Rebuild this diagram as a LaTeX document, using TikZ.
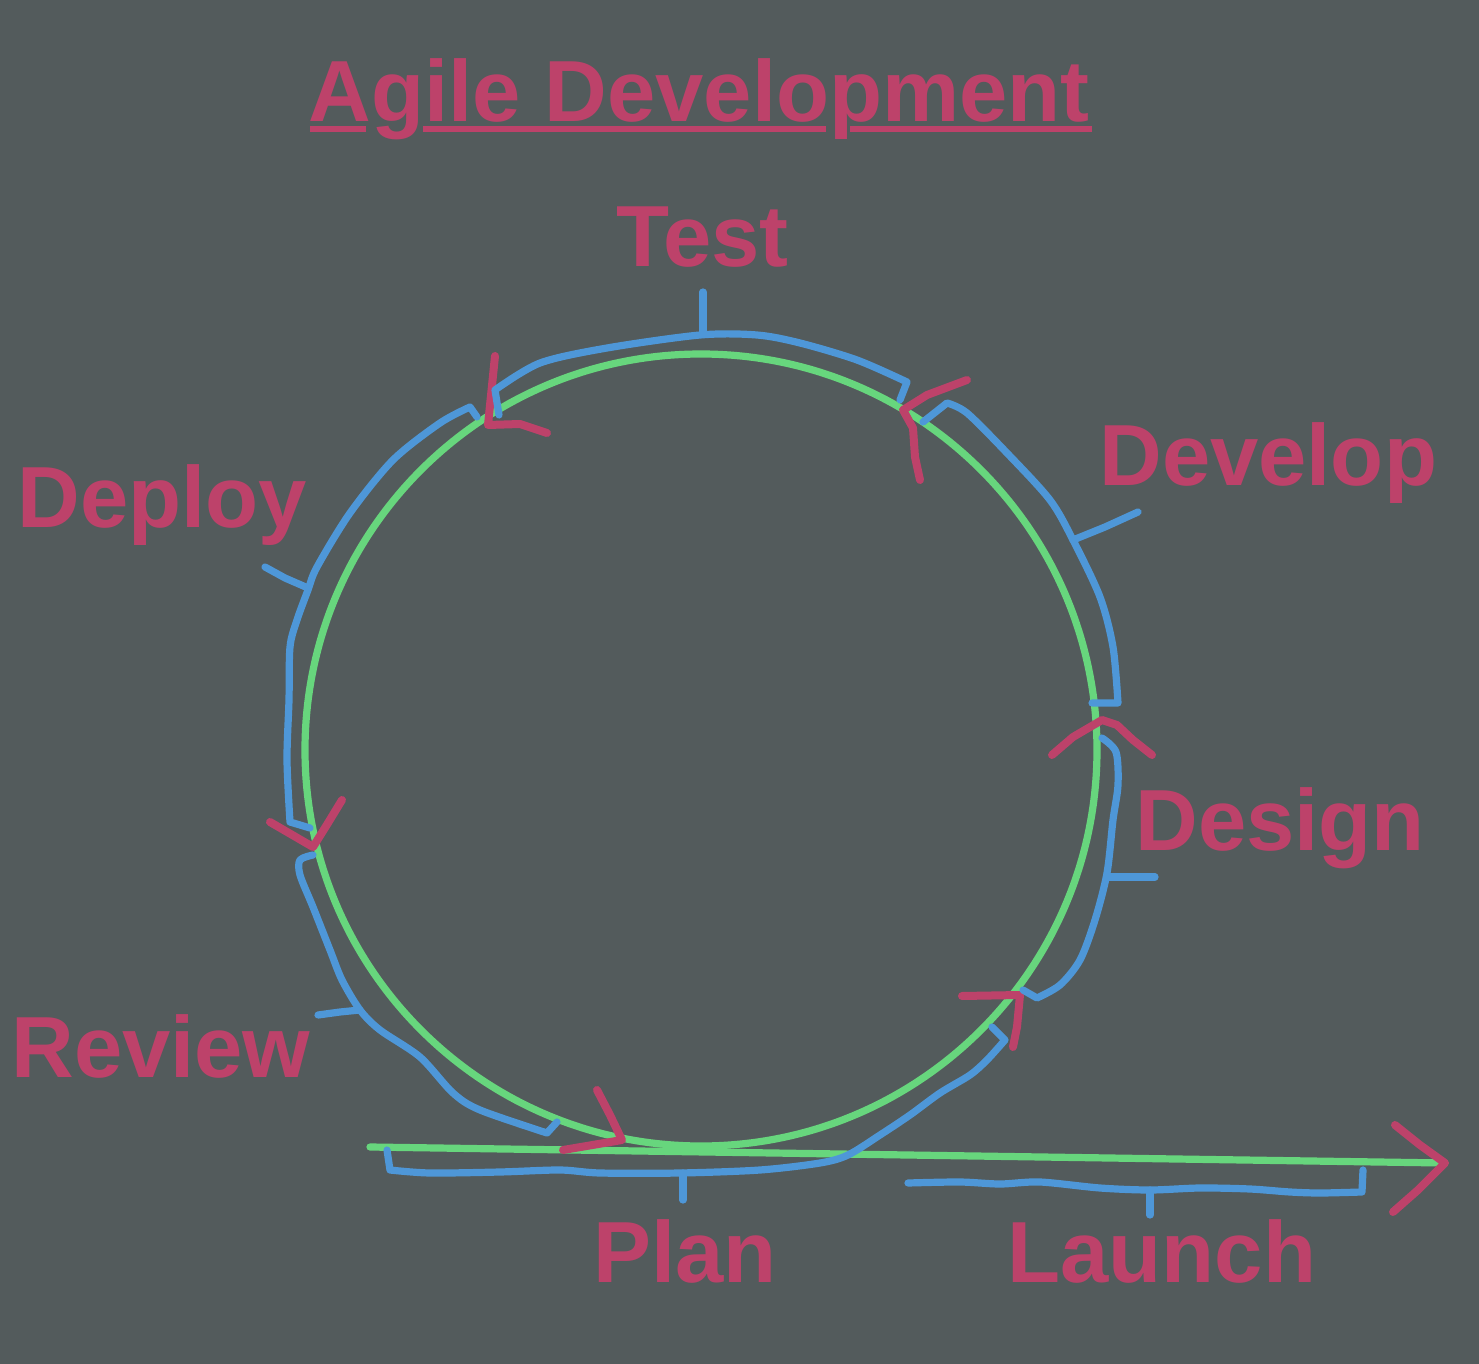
\documentclass[tikz,border=0pt]{standalone}
\usepackage{fontspec}
\setmainfont{Liberation Sans}
\definecolor{slate}{RGB}{83,91,92}
\definecolor{rose}{RGB}{189,66,106}
\definecolor{leaf}{RGB}{103,214,125}
\definecolor{sky}{RGB}{78,151,216}

\begin{document}
\begin{tikzpicture}[x=0.5pt, y=-0.5pt]
    % Styles
    \tikzset{
        ring/.style={draw=leaf, line width=3.6pt, line cap=round},
        brace/.style={draw=sky, line width=3.6pt, line cap=round, line join=round},
        tip/.style={draw=rose, line width=4pt, line cap=round, line join=round},
        stage/.style={text=rose, font=\bfseries\fontsize{43.4}{52}\selectfont, inner sep=0pt, anchor=base west}
    }

    % Background
    \fill[slate] (0,0) rectangle (1479,1364);

    % Title
    \node[stage] (title) at (308,122) {Agile Development};
    \draw[draw=rose, line width=2.8pt] (310,129) -- (366,129) (423,129) -- (826,129) (850,129) -- (1092,129);

    % Stages
    \node[stage] (test) at (616,267) {Test};
    \node[stage] (develop) at (1099,485) {Develop};
    \node[stage] (deploy) at (17,527) {Deploy};
    \node[stage] (design) at (1135,850) {Design};
    \node[stage] (review) at (11,1077) {Review};
    \node[stage] (plan) at (593,1282) {Plan};
    \node[stage] (launch) at (1007,1282) {Launch};

    % Loop and exit line
    \coordinate (ctr) at (701,750);
    \coordinate (exitstart) at (370,1147);
    \coordinate (exitend) at (1445,1163);
    \draw[ring] (ctr) circle[radius=396];
    \draw[ring] (exitstart) -- (exitend);

    % Arrow tips
    \draw[tip] (495,356) -- (488,425) -- (520,424) -- (547,433);
    \draw[tip] (967,380) -- (927,395) -- (903,410) -- (913,428) -- (915,457) -- (920,480);
    \draw[tip] (1052,755) -- (1073,737) -- (1102,720) -- (1117,725) -- (1133,740) -- (1152,755);
    \draw[tip] (270,822) -- (313,847) -- (328,823) -- (342,800);
    \draw[tip] (597,1090) -- (610,1115) -- (622,1140) -- (563,1150);
    \draw[tip] (962,996) -- (1020,995) -- (1017,1027) -- (1013,1047);
    \draw[tip] (1395,1125) -- (1420,1145) -- (exitend) -- (1418,1190) -- (1393,1212);

    % Test
    \draw[brace] (499,415) -- plot[smooth] coordinates {(495,390) (540,363) (607,348) (700,335) (757,335) (800,343) (857,360) (907,382)} -- (900,400);
    \draw[brace] (703,292) -- (703,334);

    % Develop
    \draw[brace] (923,422) -- plot[smooth] coordinates {(947,403) (967,413) (1007,453) (1050,500) (1073,540) (1100,597) (1113,647) (1118,703)} -- (1092,703);
    \draw[brace] (1073,540) -- (1105,527) -- (1138,512);

    % Design
    \draw[brace] plot[smooth] coordinates {(1102,738) (1116,752) (1118,785) (1113,820) (1107,873) (1095,920) (1080,960) (1060,985) (1037,998)} -- (1023,990);
    \draw[brace] (1107,877) -- (1155,877);

    % Plan
    \draw[brace] (992,1027) -- plot[smooth] coordinates {(1005,1040) (987,1060) (970,1075) (940,1093) (910,1115) (880,1135) (848,1155) (820,1163) (760,1170) (680,1173) (600,1173) (560,1170) (500,1172) (430,1173) (390,1170)} -- (387,1150);
    \draw[brace] (683,1173) -- (683,1200);

    % Review
    \draw[brace] plot[smooth] coordinates {(313,855) (300,860) (300,875) (313,907) (330,950) (342,980) (360,1010) (380,1030) (420,1057) (453,1093) (480,1110) (547,1133)} -- (557,1122);
    \draw[brace] (360,1010) -- (340,1012) -- (318,1015);

    % Deploy
    \draw[brace] (477,417) -- plot[smooth] coordinates {(470,407) (440,423) (393,460) (350,513) (317,567) (308,590) (297,620) (290,647) (289,700) (287,760) (290,822)} -- (310,828);
    \draw[brace] (308,588) -- (285,578) -- (265,567);

    % Launch
    \draw[brace] plot[smooth] coordinates {(908,1183) (960,1182) (1000,1184) (1040,1182) (1100,1188) (1150,1190) (1200,1188) (1250,1189) (1290,1192) (1320,1193) (1362,1192)} -- (1363,1170);
    \draw[brace] (1150,1190) -- (1150,1215);
\end{tikzpicture}
\end{document}
